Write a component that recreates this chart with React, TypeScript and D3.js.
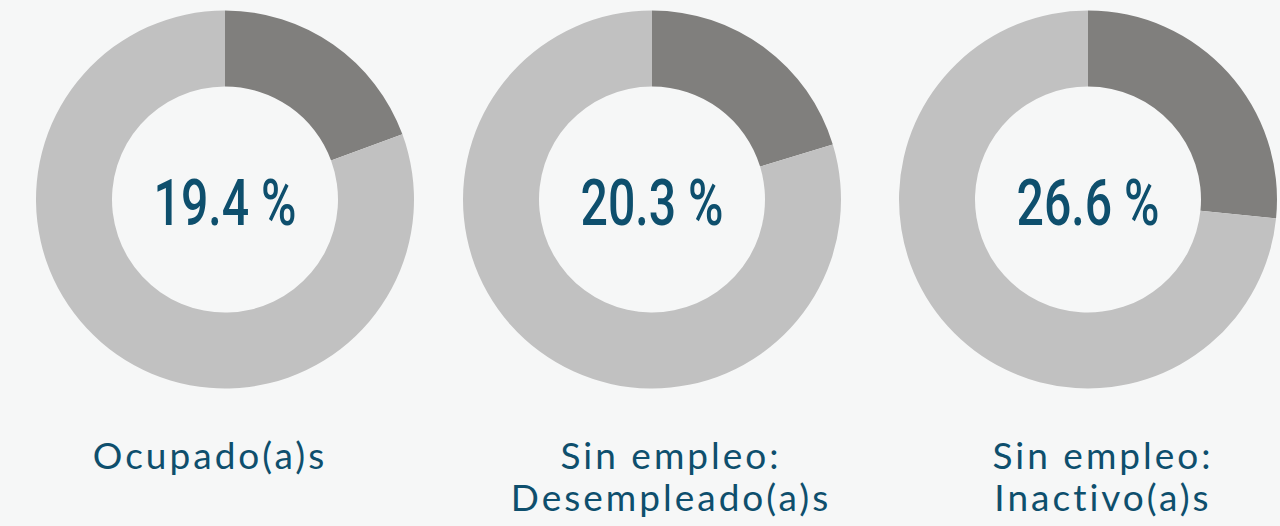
import { useEffect, useRef } from "react";
import * as d3 from "d3";

// shares (%) shown in each ring
const categories = ["Ocupado(a)s", "Desempleado(a)s", "Inactivo(a)s"];
const shares = [19.4, 20.3, 26.6];
const labelLines = [
  ["Ocupado(a)s"],
  ["Sin empleo:", "Desempleado(a)s"],
  ["Sin empleo:", "Inactivo(a)s"],
];

const width = 1280;
const height = 526;
const centers = [225, 652, 1088];
const labelCenters = [210, 671, 1103];
const cy = 199.5;
const outerR = 189;
const innerR = 113;

const BG = "#f6f7f7";
const DARK = "#807f7d";
const LIGHT = "#c1c1c1";
const BLUE = "#0e4f6d";

const App = () => {
  const svgRef = useRef<SVGSVGElement>(null);

  useEffect(() => {
    document.body.style.margin = "0";
    document.body.style.background = BG;

    const svg = d3.select(svgRef.current);
    svg.selectAll("*").remove();

    const pie = d3
      .pie<number>()
      .sort(null)
      .value((d) => d);
    const arc = d3
      .arc<d3.PieArcDatum<number>>()
      .innerRadius(innerR)
      .outerRadius(outerR);

    shares.forEach((v, i) => {
      const g = svg
        .append("g")
        .attr("class", "donut")
        .attr("transform", `translate(${centers[i]},${cy})`);

      g.selectAll("path")
        .data(pie([v, 100 - v]))
        .join("path")
        .attr("d", arc)
        .attr("fill", (_, j) => (j === 0 ? DARK : LIGHT));

      g.append("text")
        .attr("text-anchor", "middle")
        .attr("y", 25.5)
        .attr("font-family", "Roboto, sans-serif")
        .attr("font-weight", 500)
        .attr("font-size", 64)
        .attr("fill", BLUE)
        .attr("textLength", 143)
        .attr("lengthAdjust", "spacingAndGlyphs")
        .text(`${d3.format(".1f")(v)} %`);

      const lab = svg
        .append("text")
        .attr("class", "label")
        .attr("text-anchor", "middle")
        .attr("font-family", "Lato, sans-serif")
        .attr("font-size", 37)
        .attr("letter-spacing", 3)
        .attr("fill", BLUE)
        .attr("aria-label", categories[i]);

      labelLines[i].forEach((line, k) => {
        lab
          .append("tspan")
          .attr("x", labelCenters[i])
          .attr("y", 469 + k * 42)
          .text(line);
      });
    });
  }, []);

  return (
    <svg
      ref={svgRef}
      width={width}
      height={height}
      style={{ display: "block", background: BG }}
    />
  );
};

export default App;
